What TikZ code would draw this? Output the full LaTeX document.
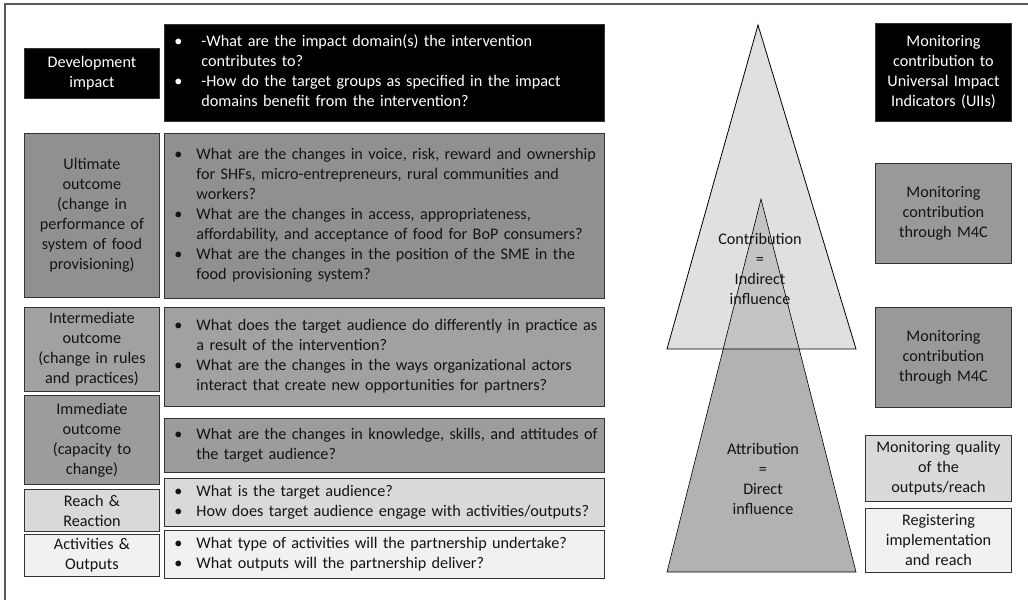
\documentclass[tikz,border=0pt]{standalone}
\usepackage{fontspec}
\setmainfont{Carlito}
\definecolor{ultc}{gray}{0.565}
\definecolor{intc}{gray}{0.63}
\definecolor{immc}{gray}{0.61}
\definecolor{m4cc}{gray}{0.60}
\definecolor{reachc}{gray}{0.85}
\definecolor{actc}{gray}{0.945}
\definecolor{lighttri}{gray}{0.88}
\definecolor{darktri}{gray}{0.70}
\definecolor{overtri}{gray}{0.77}
\definecolor{txt}{gray}{0.08}
\newcommand\bl{\textbullet}
\begin{document}
\begin{tikzpicture}[x=1pt,y=-1pt,
  box/.style={draw=black!80, line width=0.9pt, anchor=north west, inner ysep=0pt,
    font=\fontsize{16.2}{20}\selectfont, text=txt},
  lab/.style={box, align=center, inner xsep=2pt},
  qbox/.style={box, align=left, inner xsep=10pt},
  tri/.style={draw=black, line width=0.8pt, line join=miter},
  tlab/.style={align=center, font=\fontsize{16.2}{20}\selectfont, text=txt, inner sep=0pt}]
\useasboundingbox (0,0) rectangle (1028,600);
% frame
\draw[black!65, line width=1.2pt] (5,600) -- (5,4) -- (1028,4);

% left column
\node[lab, fill=black, text=white, minimum width=135pt, minimum height=50pt, text width=131pt] (dev) at (24,48) {Development\\impact};
\node[lab, fill=ultc, minimum width=135pt, minimum height=164pt, text width=131pt] (ult) at (24,133) {Ultimate\\outcome\\(change in\\performance of\\system of food\\provisioning)};
\node[lab, fill=intc, minimum width=135pt, minimum height=84pt, text width=131pt] (int) at (24,307) {Intermediate\\outcome\\(change in rules\\and practices)};
\node[lab, fill=immc, minimum width=135pt, minimum height=89pt, text width=131pt] (imm) at (24,395) {Immediate\\outcome\\(capacity to\\change)};
\node[lab, fill=reachc, minimum width=135pt, minimum height=42pt, text width=131pt] (rea) at (24,489) {Reach \&\\Reaction};
\node[lab, fill=actc, minimum width=135pt, minimum height=42pt, text width=131pt] (act) at (24,534) {Activities \&\\Outputs};

% question column
\node[qbox, fill=black, text=white, minimum width=440pt, minimum height=97pt, text width=420pt] (q1) at (164,24)
 {\begin{tabular}{@{}p{27pt}@{}l@{}}
 \bl & -What are the impact domain(s) the intervention\\
     & contributes to?\\
 \bl & -How do the target groups as specified in the impact\\
     & domains benefit from the intervention?
 \end{tabular}};
\node[qbox, fill=ultc, minimum width=440pt, minimum height=165pt, text width=420pt] (q2) at (164,133)
 {\begin{tabular}{@{}p{22pt}@{}l@{}}
 \bl & What are the changes in voice, risk, reward and ownership\\
     & for SHFs, micro-entrepreneurs, rural communities and\\
     & workers?\\
 \bl & What are the changes in access, appropriateness,\\
     & affordability, and acceptance of food for BoP consumers?\\
 \bl & What are the changes in the position of the SME in the\\
     & food provisioning system?
 \end{tabular}};
\node[qbox, fill=intc, minimum width=440pt, minimum height=99pt, text width=420pt] (q3) at (164,307)
 {\begin{tabular}{@{}p{22pt}@{}l@{}}
 \bl & What does the target audience do differently in practice as\\
     & a result of the intervention?\\
 \bl & What are the changes in the ways organizational actors\\
     & interact that create new opportunities for partners?
 \end{tabular}};
\node[qbox, fill=immc, minimum width=440pt, minimum height=54pt, text width=420pt] (q4) at (164,418)
 {\begin{tabular}{@{}p{22pt}@{}l@{}}
 \bl & What are the changes in knowledge, skills, and attitudes of\\
     & the target audience?
 \end{tabular}};
\node[qbox, fill=reachc, minimum width=440pt, minimum height=48pt, text width=420pt] (q5) at (164,478)
 {\begin{tabular}{@{}p{22pt}@{}l@{}}
 \bl & What is the target audience?\\
 \bl & How does target audience engage with activities/outputs?
 \end{tabular}};
\node[qbox, fill=actc, minimum width=440pt, minimum height=48pt, text width=420pt] (q6) at (164,530)
 {\begin{tabular}{@{}p{22pt}@{}l@{}}
 \bl & What type of activities will the partnership undertake?\\
 \bl & What outputs will the partnership deliver?
 \end{tabular}};

% triangles
\coordinate (la) at (758,25);
\coordinate (lb) at (667,349);
\coordinate (lc) at (856,349);
\coordinate (da) at (761,199);
\coordinate (db) at (667,572);
\coordinate (dc) at (856,572);
\fill[lighttri] (la) -- (lb) -- (lc) -- cycle;
\fill[darktri] (da) -- (db) -- (dc) -- cycle;
\begin{scope}
  \clip (la) -- (lb) -- (lc) -- cycle;
  \fill[overtri] (da) -- (db) -- (dc) -- cycle;
\end{scope}
\draw[tri, line width=0.6pt] (da) -- (db) -- (dc) -- cycle;
\draw[tri] (la) -- (lb) -- (lc) -- cycle;
\node[tlab] (contr) at (760,269) {Contribution\\=\\Indirect\\influence};
\node[tlab] (attr) at (763,479) {Attribution\\=\\Direct\\influence};

% right column
\node[lab, fill=black, text=white, minimum width=136pt, minimum height=98pt, text width=132pt] (uii) at (875,23) {Monitoring\\contribution to\\Universal Impact\\Indicators (UIIs)};
\node[lab, fill=m4cc, minimum width=136pt, minimum height=100pt, text width=132pt] (m1) at (875,163) {Monitoring\\contribution\\through M4C};
\node[lab, fill=m4cc, minimum width=136pt, minimum height=100pt, text width=132pt] (m2) at (875,307) {Monitoring\\contribution\\through M4C};
\node[lab, fill=reachc, minimum width=146pt, minimum height=66pt, text width=142pt] (mq) at (865,435) {Monitoring quality\\of the\\outputs/reach};
\node[lab, fill=actc, minimum width=146pt, minimum height=64pt, text width=142pt] (reg) at (865,508) {Registering\\implementation\\and reach};
\end{tikzpicture}
\end{document}
